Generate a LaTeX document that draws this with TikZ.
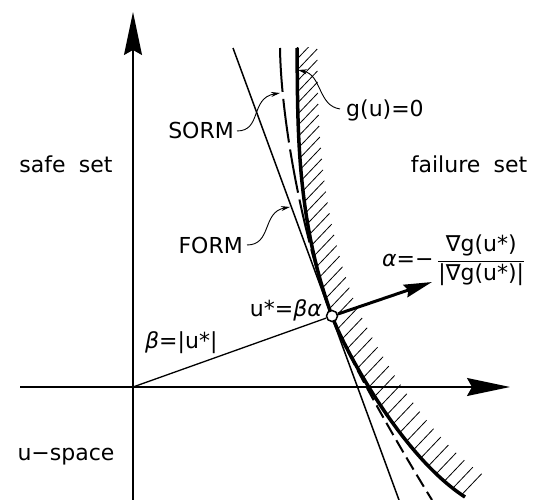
\documentclass[tikz,border=0pt]{standalone}
\usepackage{fontspec}
\setmainfont{DejaVu Sans}
\usetikzlibrary{arrows.meta,decorations.markings}
\tikzset{
  axisline/.style={line width=1.3pt, -{Stealth[length=43pt,width=18pt,inset=5pt]}},
  thinline/.style={line width=1.5pt},
  betaline/.style={line width=1.3pt},
  limitline/.style={line width=3.5pt},
  sormline/.style={line width=2pt},
  hatchline/.style={line width=0.8pt},
  leader/.style={line width=0.9pt, -{Stealth[length=9pt,width=5pt]}},
  alphaarrow/.style={line width=3pt, -{Stealth[length=28pt,width=13pt,inset=3pt]}},
  lbl/.style={inner sep=0pt},
  dpoint/.style={circle, draw, fill=white, line width=1.5pt, minimum size=11pt, inner sep=0pt},
}
\begin{document}
\begin{tikzpicture}[x=1pt,y=-1pt,font=\fontsize{22}{26}\selectfont]
\useasboundingbox (0,0) rectangle (543,500);
% key points
\coordinate (O) at (133,387);
\coordinate (Pc) at (332,316);
\coordinate (xs) at (20,387);
\coordinate (xe) at (510,387);
\coordinate (ys) at (133,500);
\coordinate (ye) at (133,12);
\coordinate (F1) at (233,48);
\coordinate (F2) at (399,500);
\coordinate (G1) at (297,48);
\coordinate (G2) at (465,497);
\coordinate (S1) at (280,48);
\coordinate (S2) at (432,500);
\coordinate (At) at (432,282);
\coordinate (sormpt) at (280,93);
\coordinate (formpt) at (290,207);
\coordinate (gpt) at (298,70);

% hatching
\begin{scope}
  \clip (0,48) rectangle (543,500);
  \path[decorate, decoration={markings,
      mark=between positions 0 and 1 step 11pt with {\pgftransformresetnontranslations
        \draw[hatchline] (0,0) -- (20,-21);}}]
    (G1) .. controls (298,120) and (295,216) .. (Pc)
         .. controls (343,346) and (400,455) .. (G2);
\end{scope}

% axes
\draw[axisline] (xs) -- (xe);
\draw[axisline] (ys) -- (ye);

% limit state surface
\draw[limitline] (G1) .. controls (298,120) and (295,216) .. (Pc)
                      .. controls (343,346) and (400,455) .. (G2);
% SORM
\draw[sormline, dash pattern=on 44pt off 7pt] (S1) .. controls (281,120) and (302.5,236) .. (Pc);
\draw[sormline, dash pattern=on 14pt off 6pt] (Pc) .. controls (346.8,356) and (401,450) .. (S2);
% FORM
\draw[thinline] (F1) -- (F2);

% design point
\node[dpoint] (P) at (Pc) {};
\draw[betaline] (O) -- (P);
\draw[alphaarrow] (P) -- (At);

% labels
\node[lbl, anchor=base] (safe) at (66,172) {safe\hspace{0.6em}set};
\node[lbl, anchor=base] (fail) at (469,172) {failure\hspace{0.6em}set};
\node[lbl, anchor=base] (uspace) at (66,460) {u−space};
\node[lbl, anchor=base east] (sorm) at (234,139) {SORM};
\node[lbl, anchor=base east] (form) at (243,253) {FORM};
\node[lbl, anchor=base west] (gu) at (346,117) {g(u)=0};
\node[lbl, anchor=base west] (beta) at (145,348) {\textit{β}=|u*|};
\node[lbl, anchor=base east] (ustar) at (322,316) {u*=\textit{βα}};
\node[lbl, anchor=base west] (alpha) at (382,266) {\textit{α}=−\,$\displaystyle\frac{\mbox{∇g(u*)}}{\mbox{|∇g(u*)|}}$};

% leaders
\path (sorm.east) ++(3,0) coordinate (sl);
\draw[leader] (sl) .. controls (262,131) and (250,98) .. (sormpt);
\path (form.east) ++(4,0) coordinate (fl);
\draw[leader] (fl) .. controls (272,245) and (262,212) .. (formpt);
\path (gu.west) ++(-6,-2) coordinate (gl);
\draw[leader] (gl) .. controls (318,106) and (322,75) .. (gpt);
\end{tikzpicture}
\end{document}
